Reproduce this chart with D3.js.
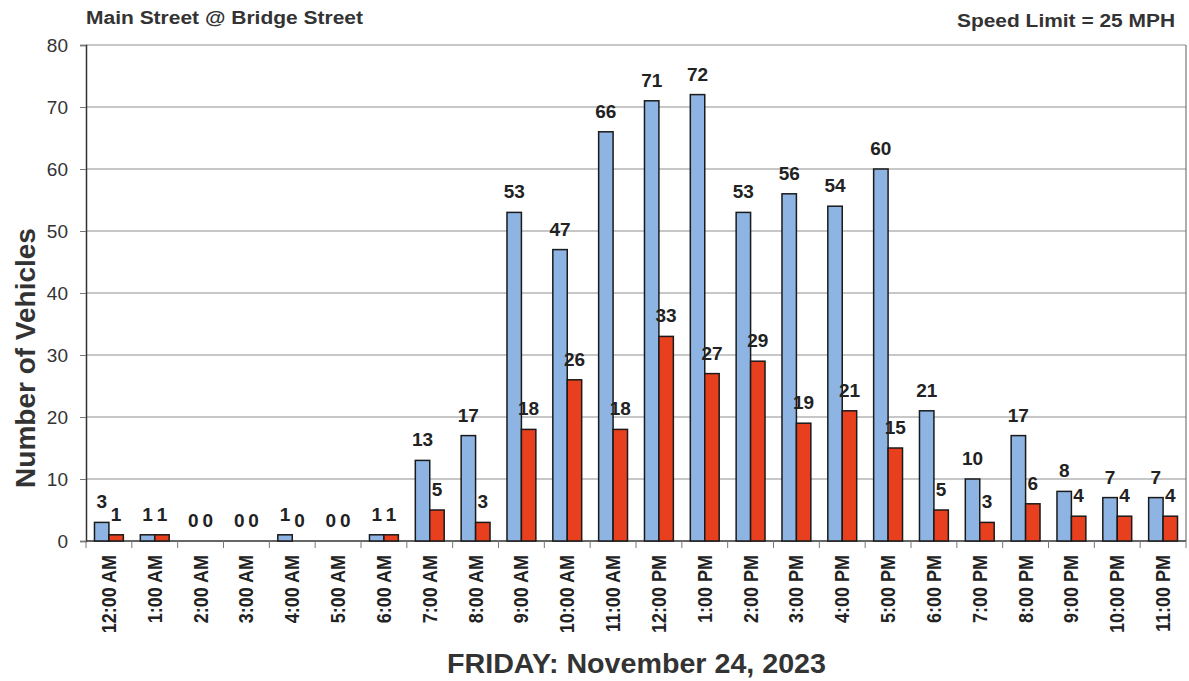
<!DOCTYPE html>
<html>
<head>
<meta charset="utf-8">
<script src="https://cdn.jsdelivr.net/npm/d3@7"></script>
<style>
  html, body { margin: 0; padding: 0; background: #fff; }
  svg { display: block; font-family: Arial, "Liberation Sans", sans-serif; }
</style>
</head>
<body>
<svg id="chart" width="1189" height="681"></svg>
<script>
// Hourly vehicle counts, Main Street @ Bridge Street
const hours = ["12:00 AM","1:00 AM","2:00 AM","3:00 AM","4:00 AM","5:00 AM","6:00 AM","7:00 AM","8:00 AM","9:00 AM","10:00 AM","11:00 AM",
               "12:00 PM","1:00 PM","2:00 PM","3:00 PM","4:00 PM","5:00 PM","6:00 PM","7:00 PM","8:00 PM","9:00 PM","10:00 PM","11:00 PM"];
const seriesA = [3,1,0,0,1,0,1,13,17,53,47,66,71,72,53,56,54,60,21,10,17,8,7,7];
const seriesB = [1,1,0,0,0,0,1,5,3,18,26,18,33,27,29,19,21,15,5,3,6,4,4,4];
const yTicks = [0,10,20,30,40,50,60,70,80];
const seriesKeys = ["a","b"];
const seriesColors = {a: "#8DB4E2", b: "#E8401E"};

const svg = d3.select("#chart");
const plotLeft = 86, plotRight = 1186, plotTop = 45, plotBottom = 541;

const x = d3.scaleBand().domain(hours).range([plotLeft, plotRight]).paddingInner(0.37).paddingOuter(0.185);
const xFull = d3.scaleBand().domain(hours).range([plotLeft, plotRight]).padding(0);
const xSub = d3.scaleBand().domain(seriesKeys).range([0, x.bandwidth()]);
const y = d3.scaleLinear().domain([0, 80]).range([plotBottom, plotTop]);

// horizontal gridlines
svg.append("g")
  .selectAll("line").data(yTicks.filter(d => d > 0)).join("line")
  .attr("x1", plotLeft).attr("x2", plotRight)
  .attr("y1", d => y(d)).attr("y2", d => y(d))
  .attr("stroke", "#8f8f8f").attr("stroke-width", 1);

// right border of plot area
svg.append("line").attr("x1", plotRight).attr("x2", plotRight).attr("y1", plotTop).attr("y2", plotBottom)
  .attr("stroke", "#777").attr("stroke-width", 1.2);

// y axis
const yAxis = svg.append("g").attr("transform", `translate(${plotLeft},0)`)
  .call(d3.axisLeft(y).tickValues(yTicks).tickSize(6).tickPadding(12));
yAxis.select(".domain").attr("stroke", "#333").attr("stroke-width", 1.5);
yAxis.selectAll(".tick line").attr("stroke", "#777");
yAxis.selectAll(".tick text").attr("font-size", 19).attr("fill", "#333")
  .attr("font-family", "Arial, 'Liberation Sans', sans-serif");

// x axis with ticks at band boundaries
const xAxisG = svg.append("g").attr("transform", `translate(0,${plotBottom})`);
xAxisG.append("line").attr("x1", plotLeft).attr("x2", plotRight).attr("y1", 0).attr("y2", 0)
  .attr("stroke", "#333").attr("stroke-width", 1.5);
xAxisG.selectAll("line.tk").data(hours.concat(["end"])).join("line").attr("class", "tk")
  .attr("x1", (d, i) => i < hours.length ? xFull(d) : plotRight)
  .attr("x2", (d, i) => i < hours.length ? xFull(d) : plotRight)
  .attr("y1", 0).attr("y2", 7).attr("stroke", "#777");
xAxisG.selectAll("text").data(hours).join("text")
  .attr("transform", d => `translate(${x(d) + x.bandwidth() / 2 + 7},14) rotate(-90) scale(1,1.15)`)
  .attr("text-anchor", "end")
  .attr("font-size", 18).attr("font-weight", "bold").attr("fill", "#222")
  .text(d => d);

// bars
const rows = hours.map((h, i) => ({hour: h, a: seriesA[i], b: seriesB[i]}));
const groups = svg.append("g").selectAll("g").data(rows).join("g")
  .attr("transform", d => `translate(${x(d.hour)},0)`);
groups.selectAll("rect")
  .data(d => seriesKeys.map(k => ({key: k, value: d[k]})).filter(e => e.value > 0))
  .join("rect")
  .attr("x", d => xSub(d.key)).attr("width", xSub.bandwidth())
  .attr("y", d => y(d.value)).attr("height", d => y(0) - y(d.value))
  .attr("fill", d => seriesColors[d.key])
  .attr("stroke", "#1a1a1a").attr("stroke-width", 1.5);

// value labels
groups.selectAll("text").data(d => seriesKeys.map(k => ({key: k, value: d[k]}))).join("text")
  .attr("x", d => xSub(d.key) + xSub.bandwidth() / 2)
  .attr("y", d => y(d.value) - 14)
  .attr("text-anchor", "middle")
  .attr("font-size", 19).attr("font-weight", "bold").attr("fill", "#222")
  .text(d => d.value);

// titles
svg.append("text").attr("x", 86).attr("y", 24)
  .attr("font-size", 18).attr("font-weight", "bold").attr("fill", "#333")
  .attr("textLength", 277).attr("lengthAdjust", "spacingAndGlyphs")
  .text("Main Street @ Bridge Street");
svg.append("text").attr("x", 957).attr("y", 27)
  .attr("font-size", 18).attr("font-weight", "bold").attr("fill", "#333")
  .attr("textLength", 218).attr("lengthAdjust", "spacingAndGlyphs")
  .text("Speed Limit = 25 MPH");
svg.append("text").attr("transform", "translate(35,358) rotate(-90)")
  .attr("text-anchor", "middle")
  .attr("font-size", 28).attr("font-weight", "bold").attr("fill", "#333")
  .text("Number of Vehicles");
svg.append("text").attr("x", 447).attr("y", 673)
  .attr("font-size", 27).attr("font-weight", "bold").attr("fill", "#333")
  .attr("textLength", 379).attr("lengthAdjust", "spacingAndGlyphs")
  .text("FRIDAY: November 24, 2023");
</script>
</body>
</html>
